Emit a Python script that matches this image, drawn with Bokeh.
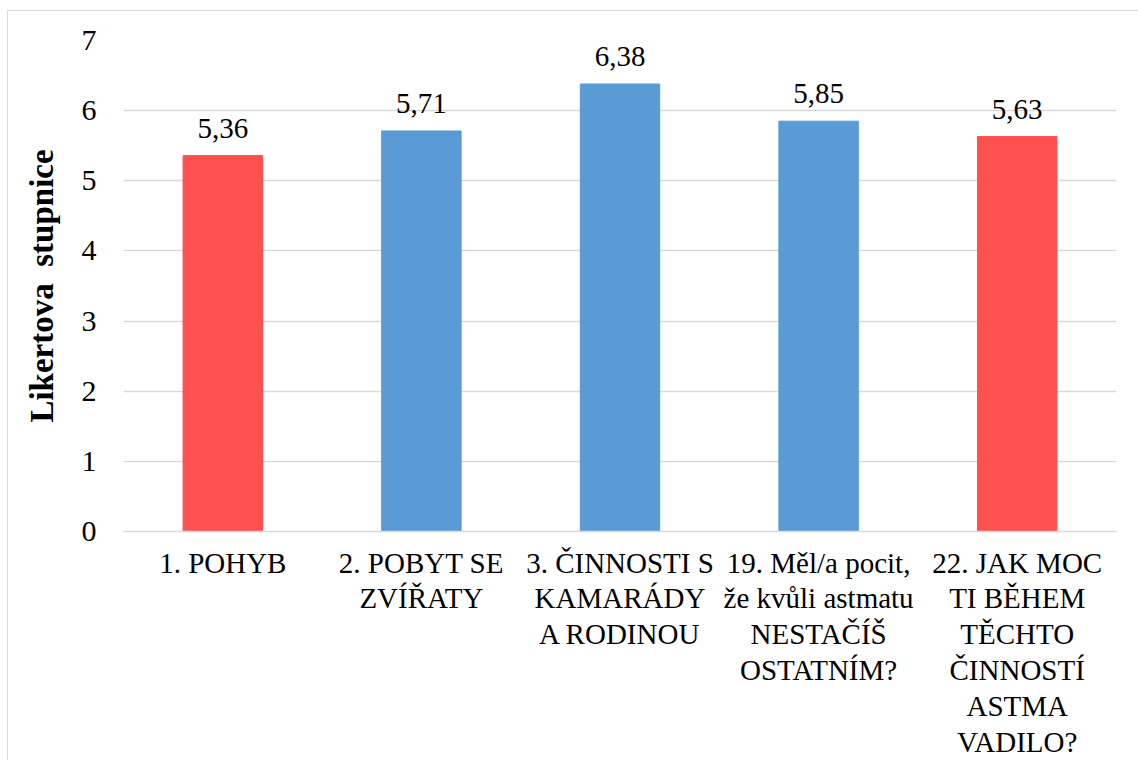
from bokeh.plotting import figure
from bokeh.models import ColumnDataSource, LabelSet, FixedTicker
from bokeh.embed import file_html
from bokeh.resources import INLINE

# Survey items (x axis, multi-line names) and their mean Likert scores
categories = [
    "1. POHYB",
    "2. POBYT SE\nZVÍŘATY",
    "3. ČINNOSTI S\nKAMARÁDY\nA RODINOU",
    "19. Měl/a pocit,\nže kvůli astmatu\nNESTAČÍŠ\nOSTATNÍM?",
    "22. JAK MOC\nTI BĚHEM\nTĚCHTO\nČINNOSTÍ\nASTMA\nVADILO?",
]
means = [5.36, 5.71, 6.38, 5.85, 5.63]
bar_colors = ["#FF5050", "#5B9BD5", "#5B9BD5", "#5B9BD5", "#FF5050"]
y_ticks = [0, 1, 2, 3, 4, 5, 6, 7]

FONT = "Liberation Serif"
GRID = "#D9D9D9"

source = ColumnDataSource(dict(
    item=categories,
    mean=means,
    color=bar_colors,
    text=[f"{v:.2f}".replace(".", ",") for v in means],
))

p = figure(
    x_range=categories,
    y_range=(0, 7),
    width=1131,
    height=750,
    frame_width=993,
    frame_height=491,
    min_border_left=115,
    min_border_right=23,
    min_border_top=29,
    min_border_bottom=219,
    output_backend="svg",
    toolbar_location=None,
    margin=(10, 0, 0, 7),
)
p.styles = {"border-left": f"1px solid {GRID}", "border-top": f"1px solid {GRID}"}
p.outline_line_color = None
p.background_fill_color = "white"
p.border_fill_color = "white"

p.vbar(x="item", top="mean", width=0.4, color="color", source=source)

p.add_layout(LabelSet(
    x="item", y="mean", text="text", source=source,
    text_align="center", text_baseline="alphabetic", y_offset=18,
    text_font=FONT, text_font_size="29px", text_color="#000000",
))

# y axis: tick labels only, no line or tick marks
p.yaxis.ticker = FixedTicker(ticks=y_ticks)
p.yaxis.axis_line_color = None
p.yaxis.major_tick_line_color = None
p.yaxis.minor_tick_line_color = None
p.yaxis.major_label_text_font = FONT
p.yaxis.major_label_text_font_size = "30px"
p.yaxis.major_label_text_color = "#000000"
p.yaxis.major_label_standoff = 21
p.yaxis.axis_label = "Likertova\u00a0\u00a0stupnice"
p.yaxis.axis_label_text_font = FONT
p.yaxis.axis_label_text_font_style = "bold"
p.yaxis.axis_label_text_font_size = "33px"
p.yaxis.axis_label_text_color = "#000000"
p.yaxis.axis_label_standoff = 19

# x axis: grey base line, multi-line category names
p.xaxis.axis_line_color = GRID
p.xaxis.axis_line_width = 1.5
p.xaxis.major_tick_line_color = None
p.xaxis.minor_tick_line_color = None
p.xaxis.major_label_text_font = FONT
p.xaxis.major_label_text_font_size = "29px"
p.xaxis.major_label_text_color = "#000000"
p.xaxis.major_label_text_line_height = 1.12
p.xaxis.major_label_standoff = 9

p.xgrid.grid_line_color = None
p.ygrid.grid_line_color = GRID
p.ygrid.grid_line_width = 1.5

open("out.html", "w").write(file_html(p, INLINE))
